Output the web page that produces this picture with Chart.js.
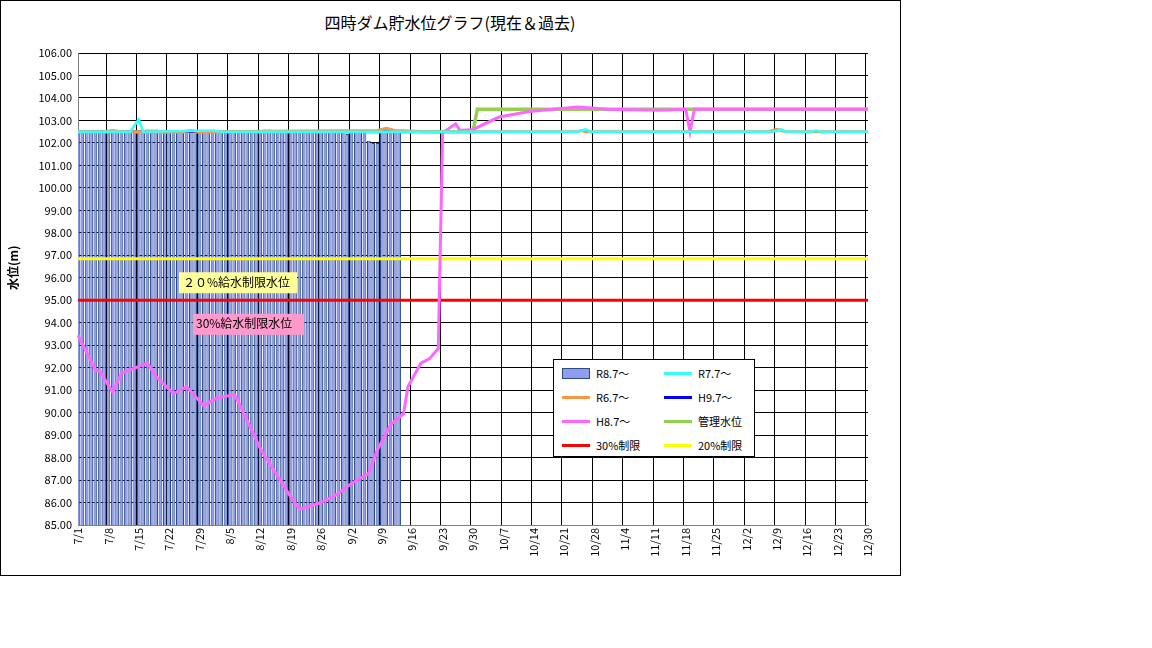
<!DOCTYPE html>
<html><head><meta charset="utf-8">
<script src="https://cdn.jsdelivr.net/npm/chart.js@4"></script>
<style>
body{margin:0;background:#fff;font-family:"Noto Sans CJK JP",sans-serif;}
#frame{position:absolute;left:0;top:0;width:899px;height:574px;border:1px solid #000;}
#title{position:absolute;left:0;width:900px;top:10px;text-align:center;font-size:16px;}
#wrap{position:absolute;left:0;top:0;width:900px;height:575px;}
#ylab{position:absolute;left:4px;top:290px;transform:rotate(-90deg);transform-origin:left top;font-size:12px;font-weight:bold;white-space:nowrap;}
#legend{position:absolute;left:553px;top:359px;width:200px;height:96px;border:1px solid #000;background:#fff;font-size:11px;}
.it{position:absolute;display:flex;align-items:center;}
.sw{width:28px;height:3px;margin-right:6px;}
</style></head><body>
<div id="frame"></div>
<div id="title">四時ダム貯水位グラフ(現在＆過去)</div>
<div id="wrap"><canvas id="c" width="900" height="575"></canvas></div>
<div id="ylab">水位(m)</div>
<div id="legend"></div>
<script>
// dates 7/1 .. 12/30
const labels = [];
for (let d = new Date(2025,6,1); d <= new Date(2025,11,30); d.setDate(d.getDate()+1)) {
  labels.push((d.getMonth()+1) + "/" + d.getDate());
}

// R8.7~ daily bars, 7/1 .. 9/13
const r8 = [102.5,102.5,102.5,102.5,102.5,102.5,102.5,102.5,102.5,102.5,
  102.5,102.5,102.5,102.5,102.5,102.5,102.6,102.6,102.6,102.5,
  102.5,102.5,102.5,102.5,102.5,102.5,102.5,102.5,102.5,102.5,
  102.5,102.5,102.5,102.5,102.5,102.5,102.5,102.5,102.5,102.5,
  102.5,102.5,102.5,102.6,102.6,102.5,102.5,102.5,102.5,102.5,
  102.5,102.5,102.5,102.5,102.5,102.5,102.5,102.5,102.5,102.5,
  102.5,102.5,102.4,102.5,102.5,102.5,102.5,102.1,102.0,102.0,
  102.5,102.5,102.5,102.5,102.5];

const r7 = [["7/1",102.5],["7/13",102.5],["7/15",103.05],["7/16",102.5],["8/1",102.55],["8/3",102.5],
  ["10/24",102.5],["10/26",102.6],["10/27",102.5],["12/8",102.5],["12/10",102.6],["12/11",102.5],
  ["12/17",102.5],["12/18",102.55],["12/19",102.5],["12/30",102.5]];
const r6 = [["7/1",102.5],["7/7",102.5],["7/9",102.55],["7/11",102.5],["7/25",102.5],["7/27",102.55],["7/29",102.5],
  ["9/8",102.55],["9/10",102.65],["9/12",102.55],["9/20",102.5],["10/24",102.5],["10/25",102.55],["10/26",102.5],
  ["12/7",102.5],["12/9",102.6],["12/11",102.5],["12/30",102.5]];
const h9 = [["7/1",102.5],["9/13",102.5]];
const h8 = [["7/1",93.45],["7/5",91.9],["7/6",91.85],["7/9",90.9],["7/11",91.75],["7/17",92.2],["7/19",91.6],
  ["7/23",90.85],["7/26",91.15],["7/30",90.3],["8/2",90.65],["8/6",90.8],["8/7",90.45],["8/12",88.4],
  ["8/19",86.25],["8/21",85.7],["8/26",86.0],["8/30",86.4],["9/2",86.85],["9/6",87.3],["9/8",88.35],
  ["9/11",89.45],["9/14",89.95],["9/15",91.15],["9/18",92.2],["9/20",92.4],["9/22",92.85],["9/23",102.45],
  ["9/26",102.85],["9/27",102.55],["9/30",102.6],["10/6",103.15],["10/13",103.4],["10/24",103.6],
  ["10/31",103.5],["11/12",103.45],["11/18",103.5],["11/19",102.5],["11/20",103.5],["12/30",103.5]];
const kanri = [["7/1",102.5],["9/30",102.5],["10/1",103.5],["12/30",103.5]];
const lim30 = [["7/1",95.0],["12/30",95.0]];
const lim20 = [["7/1",96.85],["12/30",96.85]];

const pts = a => a.map(p => ({x:p[0], y:p[1]}));
const ln = (label, data, color, w) => ({type:"line", label, data:pts(data), borderColor:color, backgroundColor:color,
  borderWidth:w, pointRadius:0, tension:0, order:1});

const notes = {
  id:"notes",
  afterDatasetsDraw(ch){
    const c = ch.ctx, y = ch.scales.y;
    c.save();
    c.font = "12px 'Noto Sans CJK JP'";
    c.textBaseline = "middle";
    c.fillStyle = "#ffff99"; c.fillRect(179, y.getPixelForValue(95.8)-10, 118, 21);
    c.fillStyle = "#000"; c.fillText("２０%給水制限水位", 183, y.getPixelForValue(95.8));
    c.fillStyle = "#ff99cc"; c.fillRect(193, y.getPixelForValue(93.95)-10, 111, 21);
    c.fillStyle = "#000"; c.fillText("30%給水制限水位", 196, y.getPixelForValue(93.95));
    c.restore();
  }
};

new Chart(document.getElementById("c"), {
  data:{labels, datasets:[
    {type:"bar", label:"R8.7～", data:r8, backgroundColor:"#8f9cf0", borderColor:"#2b4b85", borderWidth:1,
      barPercentage:0.85, categoryPercentage:1, order:10},
    ln("R7.7～", r7, "#33ffff", 2.5),
    ln("R6.7～", r6, "#f79646", 3),
    ln("H9.7～", h9, "#0000ff", 2.5),
    ln("H8.7～", h8, "#ff66ff", 3),
    ln("管理水位", kanri, "#92d050", 3.5),
    ln("30%制限", lim30, "#ff0000", 3),
    ln("20%制限", lim20, "#ffff00", 3)
  ]},
  options:{
    responsive:false, animation:false,
    layout:{padding:{top:53, right:32, left:0, bottom:0}},
    plugins:{legend:{display:false}, tooltip:{enabled:false}},
    scales:{
      x:{type:"category", offset:false,
        grid:{color:ctx => ctx.index % 7 === 0 ? "#000" : "rgba(0,0,0,0)", lineWidth:1, drawTicks:false},
        border:{color:"#808080"},
        ticks:{autoSkip:false, maxRotation:90, minRotation:90, color:"#000", font:{size:11, family:"Noto Sans CJK JP"},
          callback:(v,i) => i % 7 === 0 ? labels[i] : ""},
        afterFit:s => { s.height = 50; }},
      y:{min:85, max:106, grid:{color:"#000", drawTicks:false}, border:{color:"#808080"},
        ticks:{stepSize:1, color:"#000", padding:6, font:{size:11, family:"Noto Sans CJK JP"}, callback:v => v.toFixed(2)},
        afterFit:s => { s.width = 78; }}
    }
  },
  plugins:[notes]
});

// legend
const items = [["R8.7～","bar"],["R7.7～","#33ffff"],["R6.7～","#f79646"],["H9.7～","#0000ff"],
  ["H8.7～","#ff66ff"],["管理水位","#92d050"],["30%制限","#ff0000"],["20%制限","#ffff00"]];
const lg = document.getElementById("legend");
items.forEach((it, i) => {
  const d = document.createElement("div");
  d.className = "it";
  d.style.left = (i % 2 ? 110 : 8) + "px";
  d.style.top = (5 + Math.floor(i/2) * 24) + "px";
  const sw = it[1] === "bar"
    ? '<span class="sw" style="height:9px;width:26px;background:#8f9cf0;border:1px solid #2b4b85"></span>'
    : '<span class="sw" style="background:' + it[1] + '"></span>';
  d.innerHTML = sw + it[0];
  lg.appendChild(d);
});
</script>
</body></html>
